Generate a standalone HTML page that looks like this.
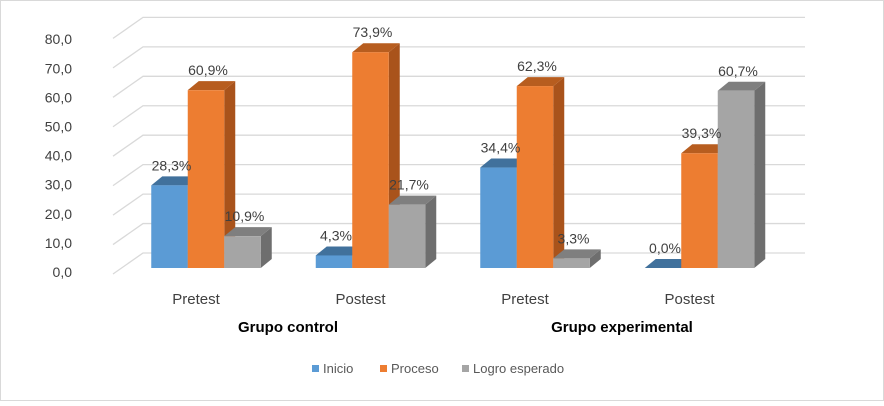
<!DOCTYPE html>
<html><head><meta charset="utf-8"><style>
body{margin:0;background:#fff}
svg{font-family:"Liberation Sans","DejaVu Sans",sans-serif}
</style></head><body>
<svg width="884" height="401" viewBox="0 0 884 401">
<rect x="0.5" y="0.5" width="883" height="400" fill="#fff" stroke="#d9d9d9"/>
<g id="grid"></g><g id="bars"></g><g id="labels"></g>
<text x="288" y="332" text-anchor="middle" font-size="15" font-weight="bold" fill="#000">Grupo control</text>
<text x="622" y="332" text-anchor="middle" font-size="15" font-weight="bold" fill="#000">Grupo experimental</text>
<g>
<rect x="312" y="365" width="7" height="7" fill="#5b9bd5"/>
<text x="323" y="373" font-size="13" fill="#595959">Inicio</text>
<rect x="380" y="365" width="7" height="7" fill="#ed7d31"/>
<text x="391" y="373" font-size="13" fill="#595959">Proceso</text>
<rect x="462" y="365" width="7" height="7" fill="#a5a5a5"/>
<text x="473" y="373" font-size="13" fill="#595959">Logro esperado</text>
</g>
</svg>
<script>
const categories=["Pretest","Postest","Pretest","Postest"];
const inicio=[28.3,4.3,34.4,0.0];
const proceso=[60.9,73.9,62.3,39.3];
const logro=[10.9,21.7,3.3,60.7];
const yTicks=[0,10,20,30,40,50,60,70,80];
const NS="http://www.w3.org/2000/svg";
function mk(t,a,p){const e=document.createElementNS(NS,t);for(const k in a)e.setAttribute(k,a[k]);p.appendChild(e);return e;}
const base=268,scale=2.92,dx=11,dy=9;
function y(v){return base-v*scale;}
function xc(i){return 206+i*164.5;}
const grid=document.getElementById('grid'),bars=document.getElementById('bars'),labels=document.getElementById('labels');
yTicks.forEach(v=>{
 const by=253-v*2.945;
 const l=mk('polyline',{points:`113,${by+21} 143,${by} 805,${by}`,fill:'none',stroke:'#d9d9d9','stroke-width':1.3},grid);
 
 
 const t=mk('text',{x:72,y:272-v*2.91+5,'text-anchor':'end','font-size':14,fill:'#404040'},labels);
 t.textContent=v.toFixed(1).replace('.',',');
 
 
});
const series=[{d:inicio,f:'#5b9bd5',top:'#41719c',side:'#3f6f9a',n:'inicio'},{d:proceso,f:'#ed7d31',top:'#b75d1f',side:'#a9531b',n:'proceso'},{d:logro,f:'#a5a5a5',top:'#7f7f7f',side:'#6e6e6e',n:'logro'}];
const W=36.5;
categories.forEach((c,i)=>{
 const x0=xc(i)-W*1.5;
 series.forEach((s,j)=>{
  const v=s.d[i],x=x0+j*W,t=y(v);
  const g=mk('g',{},bars);
  
  
  mk('polygon',{points:`${x+W},${t} ${x+W+dx},${t-dy} ${x+W+dx},${base-dy} ${x+W},${base}`,fill:s.side},g);
  mk('polygon',{points:`${x},${t} ${x+dx},${t-dy} ${x+W+dx},${t-dy} ${x+W},${t}`,fill:s.top},g);
  if(v>0)mk('rect',{x:x,y:t,width:W,height:base-t,fill:s.f},g);
  const tx=mk('text',{x:x+W/2+2,y:t-dy-6,'text-anchor':'middle','font-size':14,fill:'#404040'},labels);
  tx.textContent=v.toFixed(1).replace('.',',')+'%';
  
  
 });
 const ct=mk('text',{x:xc(i)-10,y:304,'text-anchor':'middle','font-size':15,fill:'#404040'},labels);
 ct.textContent=c;
 
 
});
</script>
</body></html>
